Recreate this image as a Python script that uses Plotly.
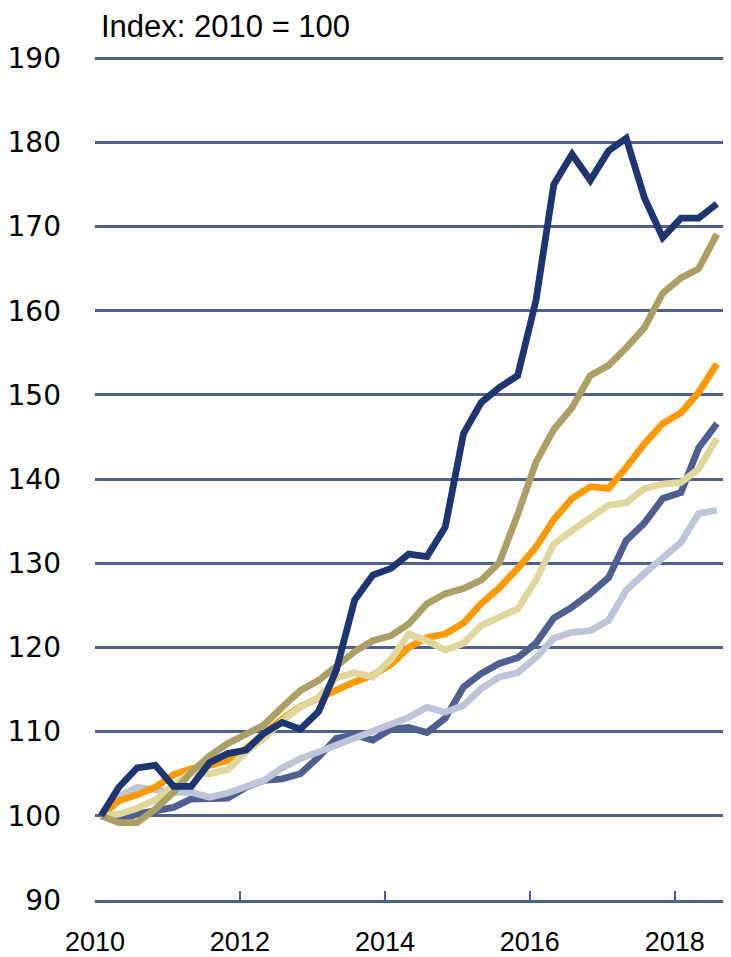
import pandas as pd
import plotly.graph_objects as go

# Quarterly observations, 2010Q1 .. 2018Q3
quarters = pd.period_range("2010Q1", "2018Q3", freq="Q")
dates = [p.start_time + pd.DateOffset(months=1) for p in quarters]

navy = [100, 103.4, 105.7, 106.0, 103.5, 103.5, 106.3, 107.4, 107.8, 109.8,
        111.1, 110.3, 112.4, 117.3, 125.6, 128.6, 129.4, 131.1, 130.8, 134.3,
        145.4, 149.1, 150.9, 152.3, 161.2, 175.0, 178.6, 175.5, 179.0, 180.5,
        173.4, 168.7, 171.0, 171.0, 172.7]
khaki = [100, 99.2, 99.2, 100.8, 102.8, 105.2, 107.1, 108.6, 109.7, 110.8,
         112.9, 114.9, 116.1, 117.8, 119.5, 120.8, 121.4, 122.8, 125.2, 126.4,
         127.0, 128.0, 130.1, 135.8, 142.0, 145.9, 148.5, 152.3, 153.5, 155.6,
         158.0, 162.1, 163.9, 165.0, 169.1]
orange = [100, 101.8, 102.5, 103.4, 104.9, 105.6, 106.0, 106.6, 108.0, 109.8,
          111.5, 113.0, 114.0, 114.8, 115.9, 116.7, 118.0, 120.0, 121.2, 121.6,
          122.9, 125.2, 127.1, 129.4, 131.9, 135.2, 137.7, 139.1, 138.9, 141.4,
          144.2, 146.6, 147.9, 150.3, 153.7]
pale = [100, 100.2, 100.9, 101.9, 103.6, 105.2, 105.0, 105.5, 107.6, 109.2,
        111.3, 112.9, 114.1, 116.4, 117.0, 116.5, 118.6, 121.6, 120.8, 119.7,
        120.5, 122.6, 123.6, 124.6, 128.0, 132.3, 133.9, 135.4, 136.9, 137.2,
        138.9, 139.4, 139.6, 141.2, 144.8]
slate = [100, 99.4, 100.2, 100.5, 101.0, 102.0, 102.0, 102.1, 103.4, 104.2,
         104.4, 105.0, 107.0, 109.2, 109.6, 109.0, 110.3, 110.5, 109.9, 111.6,
         115.3, 116.9, 118.1, 118.8, 120.5, 123.5, 124.8, 126.4, 128.3, 132.7,
         134.8, 137.7, 138.4, 143.7, 146.6]
lavender = [100, 102.3, 103.4, 103.0, 102.8, 102.8, 102.2, 102.7, 103.4, 104.2,
            105.7, 106.8, 107.6, 108.4, 109.2, 110.1, 110.8, 111.7, 112.9, 112.3,
            113.1, 115.1, 116.5, 117.0, 118.8, 121.1, 121.8, 122.0, 123.2, 126.8,
            128.8, 130.7, 132.5, 135.9, 136.3]

y_ticks = list(range(90, 191, 10))
title_text = "Index: 2010 = 100"

series = [
    ("Series 5", slate, "#4F5F8F"),
    ("Series 6", lavender, "#BFC5D9"),
    ("Series 3", orange, "#FF9900"),
    ("Series 4", pale, "#DFD79B"),
    ("Series 2", khaki, "#AC9F65"),
    ("Series 1", navy, "#1E3571"),
]

fig = go.Figure()
for name, vals, col in series:
    fig.add_trace(go.Scatter(
        x=dates, y=vals, mode="lines", name=name,
        line=dict(color=col, width=6.8, shape="linear"),
        showlegend=False, hoverinfo="skip",
    ))

# the page body has an 8px margin, so the figure is sized to fill the rest
grid_col = "#4F5F8F"
ML, MR, MT, MB = 87, 2, 49, 57
W, H = 723, 949
fig.update_layout(
    width=W, height=H,
    margin=dict(l=ML, r=MR, t=MT, b=MB),
    paper_bgcolor="white", plot_bgcolor="white",
    showlegend=False,
    xaxis=dict(
        type="date",
        range=["2010-01-01", "2018-10-01"],
        tick0="2010-01-01", dtick="M24", tickformat="%Y",
        showgrid=False, zeroline=False,
        showline=True, linecolor=grid_col, linewidth=2.5,
        ticks="inside", ticklen=9, tickwidth=2, tickcolor=grid_col,
        tickfont=dict(family="Liberation Sans Narrow, Liberation Sans, sans-serif",
                      size=27, color="black"),
        ticklabelstandoff=16,
        automargin=False,
        fixedrange=True,
    ),
    yaxis=dict(
        range=[90, 190.15],
        tickvals=y_ticks,
        showgrid=True, gridcolor=grid_col, gridwidth=2.5,
        zeroline=False, showline=False, ticks="",
        tickfont=dict(family="DejaVu Sans, Verdana, sans-serif", size=28, color="black"),
        ticklabelstandoff=33,
        automargin=False,
        fixedrange=True,
    ),
    annotations=[dict(
        text=title_text, xref="paper", yref="paper",
        x=(92 - ML) / (W - ML - MR), y=1 + MT / (H - MT - MB),
        xanchor="left", yanchor="top", showarrow=False, borderpad=0,
        font=dict(family="Liberation Sans, Arial, sans-serif", size=31, color="black"),
    )],
)

fig.write_html("out.html")
